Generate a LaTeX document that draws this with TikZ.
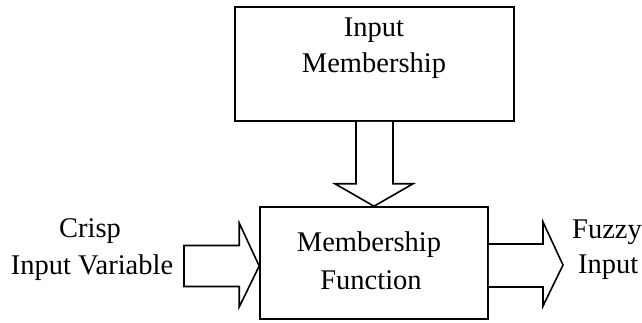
\documentclass[tikz,border=0pt]{standalone}
\usepackage{fontspec}
\setmainfont{Liberation Serif}
\usetikzlibrary{calc}
\begin{document}
\begin{tikzpicture}[x=1pt,y=-1pt,
  box/.style={draw=black,line width=1.6pt,fill=white,inner sep=0pt},
  blockarrow/.style={draw=black,line width=1.6pt,fill=white,line join=miter},
  lbl/.style={inner sep=0pt,font=\fontsize{28.5}{33}\selectfont}]
\useasboundingbox (0,0) rectangle (642,323);
% boxes
\node[box,minimum width=279pt,minimum height=114pt] (top) at (374.5,64) {};
\node[box,minimum width=228pt,minimum height=112pt] (bot) at (374,263) {};
% texts in boxes
\node[lbl] (t1) at (374,30) {Input};
\node[lbl] (t2) at (374,66) {Membership};
\node[lbl] (b1) at (369,245) {Membership};
\node[lbl] (b2) at (371,280) {Function};
% down block arrow
\draw[blockarrow] ($(top.south)+(-18.5,0)$) -- ($(top.south)+(-18.5,62)$)
  -- ($(top.south)+(-39.5,62)$) -- (bot.north) -- ($(top.south)+(38.5,62)$)
  -- ($(top.south)+(18.5,62)$) -- ($(top.south)+(18.5,0)$);
% left block arrow
\coordinate (lin) at (184,266);
\coordinate (ltip) at ($(bot.west)+(0,3)$);
\draw[blockarrow] ($(lin)+(0,-20.5)$) -- ($(ltip)+(-20,-20.5)$) -- ($(ltip)+(-20,-43)$)
  -- (ltip) -- ($(ltip)+(-20,41)$) -- ($(ltip)+(-20,20.5)$) -- ($(lin)+(0,20.5)$) -- cycle;
% right block arrow
\coordinate (rout) at (563,265);
\draw[blockarrow] ($(bot.east)+(0,-19)$) -- ($(rout)+(-20,-21)$) -- ($(rout)+(-20,-43)$)
  -- (rout) -- ($(rout)+(-20,41)$) -- ($(rout)+(-20,22)$) -- ($(bot.east)+(0,24)$);
% outside labels
\node[lbl] (crisp) at (90,231) {Crisp};
\node[lbl] (inv) at (92,268) {Input Variable};
\node[lbl,anchor=west] (fuzzy) at (572,232) {Fuzzy};
\node[lbl,anchor=west] (finp) at (578,267) {Input};
\end{tikzpicture}
\end{document}
